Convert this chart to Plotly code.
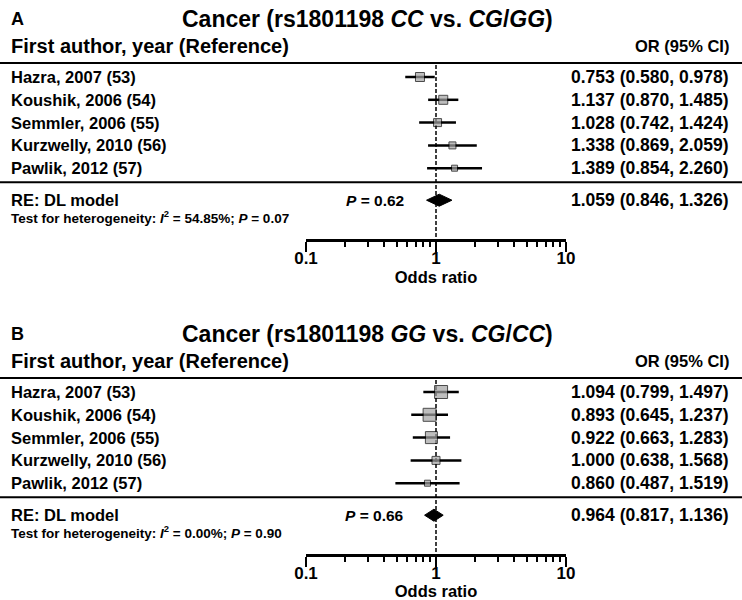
import plotly.graph_objects as go

# ---------------- data ----------------
studies = ["Hazra, 2007 (53)", "Koushik, 2006 (54)", "Semmler, 2006 (55)",
           "Kurzwelly, 2010 (56)", "Pawlik, 2012 (57)"]

or_a = [0.753, 1.137, 1.028, 1.338, 1.389]
lo_a = [0.580, 0.870, 0.742, 0.869, 0.854]
hi_a = [0.978, 1.485, 1.424, 2.059, 2.260]
pooled_a = [1.059, 0.846, 1.326]
p_a = "0.62"
het_a = ("54.85%", "0.07")
title_a = "Cancer (rs1801198 <i>CC</i> vs. <i>CG</i>/<i>GG</i>)"

or_b = [1.094, 0.893, 0.922, 1.000, 0.860]
lo_b = [0.799, 0.645, 0.663, 0.638, 0.487]
hi_b = [1.497, 1.237, 1.283, 1.568, 1.519]
pooled_b = [0.964, 0.817, 1.136]
p_b = "0.66"
het_b = ("0.00%", "0.90")
title_b = "Cancer (rs1801198 <i>GG</i> vs. <i>CG</i>/<i>CC</i>)"

tick_vals = [0.1, 1, 10]
tick_text = ["0.1", "1", "10"]
minor_vals = [0.2, 0.3, 0.4, 0.5, 0.6, 0.7, 0.8, 0.9, 2, 3, 4, 5, 6, 7, 8, 9]

# ---------------- styles ----------------
W, H = 742, 600
FONT = "Liberation Sans, Arial, sans-serif"
sizes_a = [9, 9, 8, 7, 6]
sizes_b = [13, 13, 12, 8, 6]
AX_L, AX_R = 306, 566


def px(x):
    return x / W


fig = go.Figure()
annotations = []
shapes = []


def fmt(v, l, h):
    return f"{v:.3f} ({l:.3f}, {h:.3f})"


def panel(letter, title, ors, los, his, pooled, pval, het, sizes, top, xa):
    row0 = top + 77
    step = 22.8
    rows = [row0 + i * step for i in range(len(ors))]
    sep1 = top + 63
    sep2 = rows[-1] + 14
    re_y = sep2 + 18
    het_y = re_y + 17
    axis_y = het_y + 23
    # CI lines
    for i in range(len(ors)):
        fig.add_trace(go.Scatter(x=[los[i], his[i]], y=[rows[i], rows[i]], mode="lines",
                                 line=dict(color="black", width=2.5), xaxis=xa, yaxis="y",
                                 showlegend=False, hoverinfo="skip"))
    # dashed reference line
    fig.add_trace(go.Scatter(x=[1, 1], y=[sep1 + 2, axis_y], mode="lines",
                             line=dict(color="black", width=1.5, dash="4px,2px"),
                             xaxis=xa, yaxis="y", showlegend=False, hoverinfo="skip"))
    # squares
    fig.add_trace(go.Scatter(x=ors, y=rows, mode="markers",
                             marker=dict(symbol="square", size=sizes, color="#a3a3a3",
                                         line=dict(color="black", width=1)),
                             xaxis=xa, yaxis="y", showlegend=False, hoverinfo="skip"))
    # diamond
    est, plo, phi = pooled
    dh = 6
    fig.add_trace(go.Scatter(x=[plo, est, phi, est, plo], y=[re_y, re_y - dh, re_y, re_y + dh, re_y],
                             mode="lines", fill="toself", fillcolor="black",
                             line=dict(color="black", width=1), xaxis=xa, yaxis="y",
                             showlegend=False, hoverinfo="skip"))

    def txt(x, y, s, size, anchor="left"):
        annotations.append(dict(x=px(x), y=y, xref="paper", yref="y", text=s, showarrow=False,
                                xanchor=anchor, yanchor="middle",
                                font=dict(family=FONT, size=size, color="black")))

    txt(9, top + 19, f"<b>{letter}</b>", 18)
    txt(367, top + 19, f"<b>{title}</b>", 23, anchor="center")
    txt(9, top + 46, "<b>First author, year (Reference)</b>", 20)
    txt(731, top + 46, "<b>OR (95% CI)</b>", 16.5, anchor="right")
    for i, s in enumerate(studies):
        txt(9, rows[i], f"<b>{s}</b>", 16.5)
        txt(731, rows[i], f"<b>{fmt(ors[i], los[i], his[i])}</b>", 17.5, anchor="right")
    txt(9, re_y, "<b>RE: DL model</b>", 16.5)
    txt(406, re_y, f"<b><i>P</i> = {pval}</b>", 15.5, anchor="right")
    txt(731, re_y, f"<b>{fmt(est, plo, phi)}</b>", 17.5, anchor="right")
    txt(9, het_y, f"<b>Test for heterogeneity: <i>I</i><sup>2</sup> = {het[0]}; <i>P</i> = {het[1]}</b>", 13.5)
    for yy in (sep1, sep2):
        shapes.append(dict(type="line", xref="paper", yref="y", x0=0, x1=1, y0=yy, y1=yy,
                           line=dict(color="black", width=2)))
    return axis_y


ya = panel("A", title_a, or_a, lo_a, hi_a, pooled_a, p_a, het_a, sizes_a, 0, "x")
yb = panel("B", title_b, or_b, lo_b, hi_b, pooled_b, p_b, het_b, sizes_b, 315, "x2")

axis_common = dict(type="log", range=[-1, 1], domain=[px(AX_L), px(AX_R)], anchor="free",
                   showline=True, linecolor="black", linewidth=2.5, showgrid=False, zeroline=False,
                   ticks="outside", ticklen=10, tickwidth=2.5, tickcolor="black",
                   tickvals=tick_vals, ticktext=[f"<b>{t}</b>" for t in tick_text],
                   tickfont=dict(family=FONT, size=17, color="black"),
                   ticklabelstandoff=-8,
                   minor=dict(tickvals=minor_vals, ticks="outside", ticklen=5, tickwidth=2,
                              tickcolor="black", showgrid=False),
                   title=dict(text="<b>Odds ratio</b>", font=dict(family=FONT, size=16.5, color="black"),
                              standoff=0),
                   fixedrange=True)

fig.update_layout(
    width=W, height=H, margin=dict(l=0, r=0, t=0, b=0, pad=0, autoexpand=False),
    paper_bgcolor="white", plot_bgcolor="rgba(0,0,0,0)",
    xaxis=dict(**axis_common, position=1 - ya / H),
    xaxis2=dict(**axis_common, position=1 - yb / H),
    yaxis=dict(range=[H, 0], domain=[0, 1], visible=False, fixedrange=True),
    annotations=annotations, shapes=shapes, showlegend=False,
)

fig.write_html("out.html", config={"displayModeBar": False, "staticPlot": True},
               post_script="document.body.style.margin='0px';")
